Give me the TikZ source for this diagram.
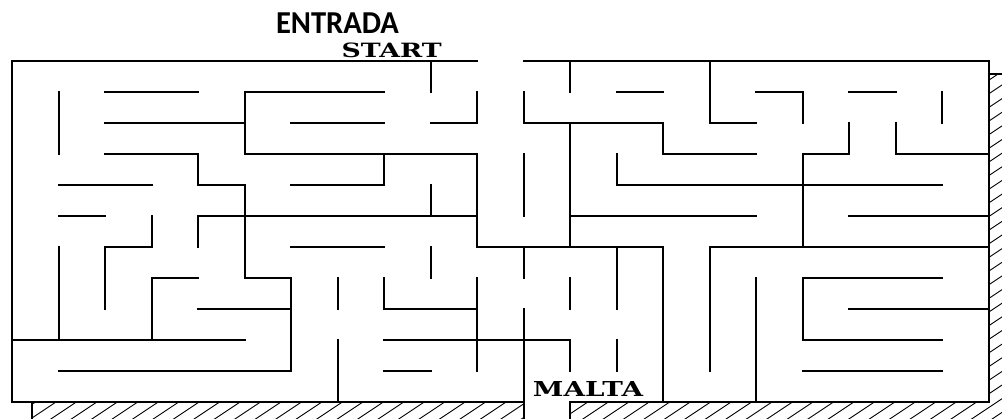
\documentclass[tikz,border=0pt]{standalone}
\usepackage{graphicx}
\usepackage{fontspec}
\newfontfamily\entfont{Carlito}
\newfontfamily\slabfont{DejaVu Serif}
\begin{document}
\begin{tikzpicture}[x=46.5pt,y=-31pt,
  wall/.style={line width=2pt,line cap=rect},
  hatchline/.style={line width=0.9pt},
  signtext/.style={inner sep=0pt,anchor=base}]

\useasboundingbox (-12pt,61pt) rectangle (990pt,-357pt);

\begin{scope}
\clip (0.43,11) rectangle (11,11.6) (12,11) rectangle (21.3,11.6) (21,0.42) rectangle (21.3,11.6);
\foreach \i in {-30,...,50}
{
\draw[hatchline] (\i*0.44+0.345,11.6)--++(12,-12);
}
\end{scope}

\draw[wall] (0.43,11.516)--(0.43,11);
\draw[wall] (21,0.42)--(21.3,0.42);

\draw[wall] (10,0)--(0,0)--(0,11)--(11,11)--(11,11.516);
\draw[wall] (11,0)--(21,0)--(21,11)--(12,11)--(12,11.516);

\foreach \r/\a/\b in {1/2/4,1/5/8,1/13/14,1/16/17,1/18/19,
  2/2/5,2/6/8,2/9/10,2/11/14,2/15/16,
  3/2/4,3/5/10,3/14/16,3/17/18,3/19/21,
  4/1/3,4/4/5,4/6/8,4/13/20,
  5/1/2,5/4/10,5/12/16,5/18/21,
  6/2/3,6/6/8,6/10/14,6/15/21,
  7/3/4,7/5/6,7/17/20,
  8/4/6,8/8/10,8/18/21,
  9/0/5,9/8/12,9/17/20,
  10/1/6,10/8/9,10/17/20}
{
\draw[wall] (\a,\r)--(\b,\r);
}

\foreach \c/\a/\b in {1/1/3,1/6/9,2/6/8,3/5/6,3/7/9,4/3/4,4/5/6,
  5/1/3,5/4/7,6/7/10,7/7/8,7/9/11,8/3/4,8/7/8,
  9/0/1,9/4/5,9/6/7,10/1/2,10/3/6,10/7/10,
  11/1/2,11/3/5,11/6/7,11/8/11,12/0/1,12/2/6,12/7/8,12/9/10,
  13/3/4,13/6/8,13/9/10,14/2/3,14/6/11,15/0/2,15/6/10,16/7/11,
  17/1/2,17/3/6,17/7/9,18/2/3,19/2/3,20/1/2}
{
\draw[wall] (\c,\a)--(\c,\b);
}

\node[signtext] (entrada) at (7.0,-0.903) {\resizebox{123pt}{20.7pt}{\entfont\bfseries ENTRADA}};
\node[signtext] (start) at (8.166,-0.129) {\resizebox{100pt}{14.6pt}{\slabfont\bfseries START}};
\node[signtext] (malta) at (12.387,10.83) {\resizebox{110pt}{15pt}{\slabfont\bfseries MALTA}};

\end{tikzpicture}
\end{document}
